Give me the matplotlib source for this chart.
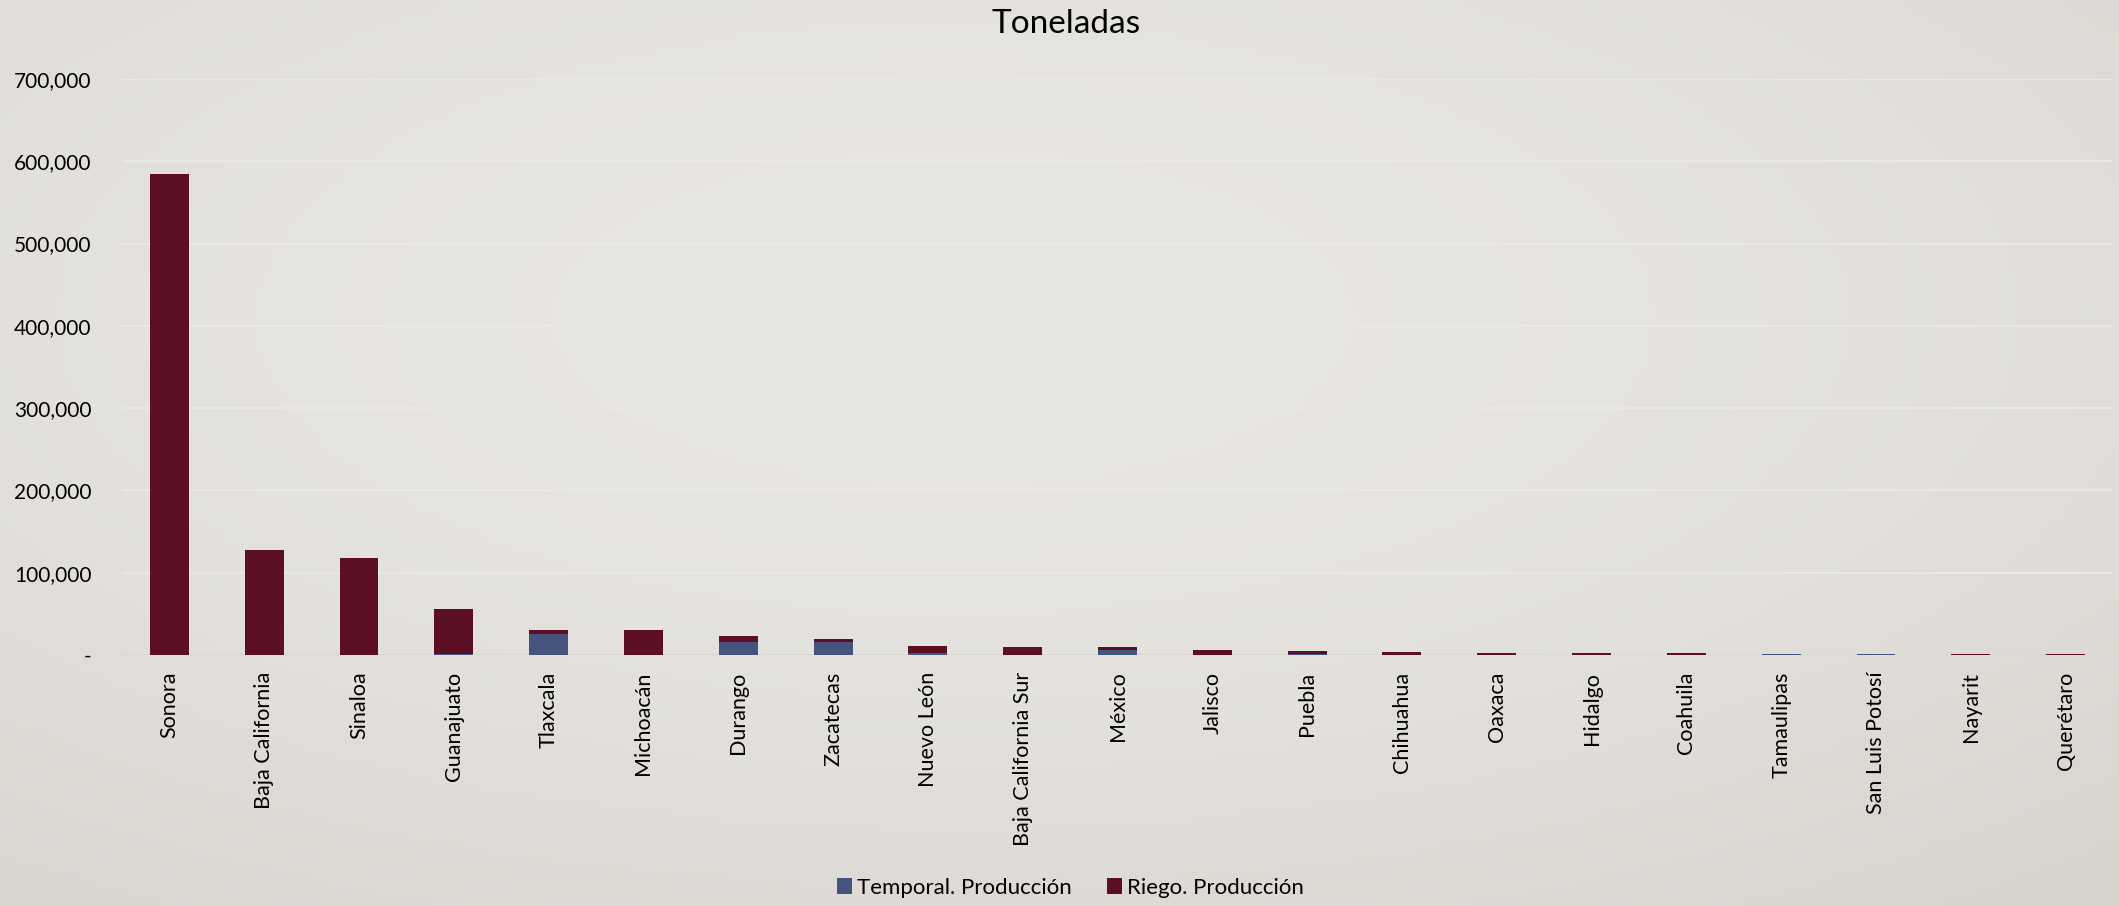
import numpy as np
import matplotlib
matplotlib.use("Agg")
import matplotlib.pyplot as plt
from matplotlib.ticker import FuncFormatter

estados = ["Sonora", "Baja California", "Sinaloa", "Guanajuato", "Tlaxcala",
           "Michoacán", "Durango", "Zacatecas", "Nuevo León", "Baja California Sur",
           "México", "Jalisco", "Puebla", "Chihuahua", "Oaxaca", "Hidalgo",
           "Coahuila", "Tamaulipas", "San Luis Potosí", "Nayarit", "Querétaro"]
temporal = [0, 0, 0, 1200, 25000, 0, 15800, 15400, 2800, 0,
            6500, 0, 1800, 0, 0, 0, 300, 1000, 800, 0, 0]
riego = [584000, 127000, 118000, 55000, 5000, 30000, 6900, 4000, 8500, 9700,
         2800, 5500, 3500, 3600, 2600, 2400, 1700, 0, 0, 800, 1200]

AZUL = "#44547F"
ROJO = "#5C0F22"

plt.rcParams['font.family'] = ['Lato', 'DejaVu Sans']

fig = plt.figure(figsize=(21.19, 9.06), dpi=100)

# soft background gradient like the slide
bg = fig.add_axes([0, 0, 1, 1], zorder=-10)
yy, xx = np.mgrid[0:1:200j, 0:1:400j]
shade = 1 - 0.55 * ((xx - 0.45) ** 2 + (yy - 0.35) ** 2)
bg.imshow(shade, cmap=matplotlib.colors.LinearSegmentedColormap.from_list(
    "bg", ["#D6D2CC", "#E8E6E2"]), aspect="auto", extent=[0, 1, 0, 1], origin="upper")
bg.axis("off")

ax = fig.add_axes([122 / 2119, 1 - 655 / 906, (2113 - 122) / 2119, (655 - 79) / 906])
ax.patch.set_alpha(0)

x = np.arange(len(estados))
ax.bar(x, temporal, width=0.41, color=AZUL, label="Temporal. Producción", zorder=3)
ax.bar(x, riego, width=0.41, bottom=temporal, color=ROJO, label="Riego. Producción", zorder=3)

ax.set_xlim(-0.5, len(estados) - 0.5)
ax.set_ylim(0, 700000)
ax.set_yticks(np.arange(0, 700001, 100000))
ax.yaxis.set_major_formatter(FuncFormatter(lambda v, p: "-" if v == 0 else f"{int(v):,}"))
ax.grid(axis="y", color="#E9E8E6", linewidth=1.6, zorder=0)
for s in ax.spines.values():
    s.set_visible(False)
ax.axhline(0, color="#D9D8D6", linewidth=1.6, zorder=2)

ax.set_xticks(x)
ax.set_xticklabels(estados, rotation=90, fontsize=15.5, va="top")
ax.tick_params(axis="x", length=0, pad=12)
ax.tick_params(axis="y", length=0, pad=22, labelsize=15)

fig.text(0.503, 1 - 24 / 906, "Toneladas", ha="center", va="center", fontsize=24)

fig.legend(loc="center", bbox_to_anchor=(0.505, 1 - 888 / 906), ncol=2, frameon=False,
           fontsize=16, handlelength=0.7, handleheight=0.7, handletextpad=0.2,
           columnspacing=1.6)

fig.savefig("out.png", dpi=100)
